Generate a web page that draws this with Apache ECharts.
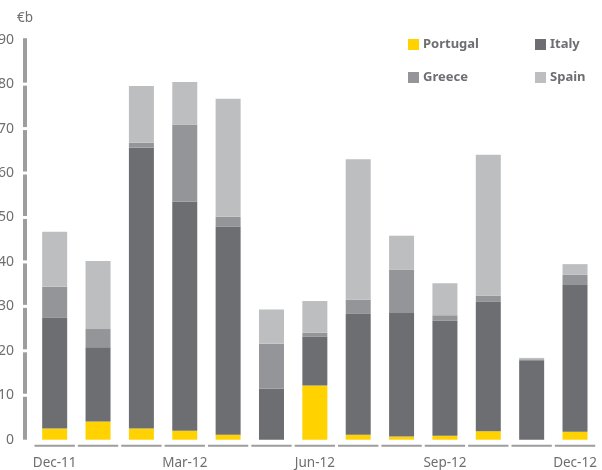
<!DOCTYPE html>
<html>
<head>
<meta charset="utf-8">
<script src="https://cdn.jsdelivr.net/npm/echarts@6/dist/echarts.min.js"></script>
<style>
  html, body { margin: 0; padding: 0; background: #fff; }
  #chart { width: 602px; height: 470px; }
</style>
</head>
<body>
<div id="chart"></div>
<script>
// Monthly amounts by country, €b
var months = ['Dec-11', 'Jan-12', 'Feb-12', 'Mar-12', 'Apr-12', 'May-12', 'Jun-12',
              'Jul-12', 'Aug-12', 'Sep-12', 'Oct-12', 'Nov-12', 'Dec-12'];
var portugal = [2.5, 4.1, 2.5, 2.0, 1.1, 0, 12.2, 1.1, 0.7, 0.9, 1.9, 0, 1.8];
var italy    = [24.9, 16.7, 63.2, 51.6, 46.8, 11.5, 11.0, 27.2, 27.8, 25.9, 29.1, 17.9, 33.0];
var greece   = [7.0, 4.1, 1.1, 17.3, 2.3, 10.1, 0.9, 3.2, 9.8, 1.2, 1.4, 0.2, 2.3];
var spain    = [12.4, 15.3, 12.8, 9.6, 26.5, 7.7, 7.1, 31.6, 7.6, 7.2, 31.7, 0.3, 2.4];
var yMin = 0, yMax = 90, yStep = 10;

var COLORS = { Portugal: '#FFD200', Italy: '#6D6E71', Greece: '#939598', Spain: '#BCBEC0' };
var TEXT = '#6D6E71';
var RULE = '#9D9D9D';
var FONT = '"Noto Sans", "DejaVu Sans", sans-serif';

// Start of each y-axis segment (the axis rule is broken at every tick)
var ySegments = [];
for (var v = yMin; v < yMax; v += yStep) ySegments.push([0, v]);

var chart = echarts.init(document.getElementById('chart'), null, { renderer: 'canvas' });

function legendAt(name, left, top) {
  return {
    data: [name],
    left: left, top: top,
    padding: 0,
    icon: 'rect',
    itemWidth: 11, itemHeight: 11,
    itemGap: 0,
    selectedMode: false,
    textStyle: { color: TEXT, fontFamily: FONT, fontSize: 13, fontWeight: 'bold', padding: [0, 0, 0, -1] }
  };
}

function bar(name, values) {
  return {
    name: name,
    type: 'bar',
    stack: 'total',
    barWidth: 25,
    itemStyle: { color: COLORS[name] },
    emphasis: { disabled: true },
    data: values
  };
}

// Short rule under each month
function renderMonthRule(params, api) {
  var p = api.coord([api.value(0), 0]);
  var bw = api.size([1, 0])[0];
  return {
    type: 'line',
    shape: { x1: p[0] - bw / 2 + 1.5, y1: p[1] + 6, x2: p[0] + bw / 2 - 1.5, y2: p[1] + 6 },
    style: { stroke: RULE, lineWidth: 2 },
    silent: true
  };
}

// Thick vertical rule left of the plot, split at every tick
function renderYRule(params, api) {
  var lo = api.value(1);
  var hi = lo + yStep;
  var pLo = api.coord([0, lo]);
  var pHi = api.coord([0, hi]);
  var bw = api.size([1, 0])[0];
  var x = pLo[0] - bw / 2 - 8;
  var yBottom = pLo[1] - (lo > yMin ? 1.5 : 0);
  var yTop = pHi[1] + (hi < yMax ? 1.5 : -1.5);
  return {
    type: 'rect',
    shape: { x: x - 2, y: yTop, width: 4, height: yBottom - yTop },
    style: { fill: RULE },
    silent: true
  };
}

chart.setOption({
  animation: false,
  backgroundColor: '#fff',
  grid: { left: 33, right: 5.3, top: 39.7, bottom: 30.3, outerBoundsMode: 'none', containLabel: false },
  legend: [
    legendAt('Portugal', 408, 38),
    legendAt('Italy', 535, 38),
    legendAt('Greece', 408, 71),
    legendAt('Spain', 535, 71)
  ],
  xAxis: {
    type: 'category',
    data: months,
    axisLine: { show: false },
    axisTick: { show: false },
    axisLabel: {
      interval: 2,
      color: TEXT, fontFamily: FONT, fontSize: 13.5, margin: 16
    }
  },
  yAxis: {
    type: 'value',
    min: yMin, max: yMax, interval: yStep,
    offset: 8,
    name: '€b',
    nameLocation: 'end',
    nameGap: 15,
    nameTextStyle: { color: TEXT, fontFamily: FONT, fontSize: 13.5, align: 'center' },
    axisLine: { show: false },
    axisTick: { show: false },
    splitLine: { show: false },
    axisLabel: { color: TEXT, fontFamily: FONT, fontSize: 14, margin: 11 }
  },
  series: [
    bar('Portugal', portugal),
    bar('Italy', italy),
    bar('Greece', greece),
    bar('Spain', spain),
    {
      type: 'custom',
      name: 'month-rule',
      renderItem: renderMonthRule,
      clip: false,
      silent: true,
      data: months.map(function (m, i) { return [i, 0]; })
    },
    {
      type: 'custom',
      name: 'y-rule',
      renderItem: renderYRule,
      clip: false,
      silent: true,
      data: ySegments
    }
  ]
});
</script>
</body>
</html>
